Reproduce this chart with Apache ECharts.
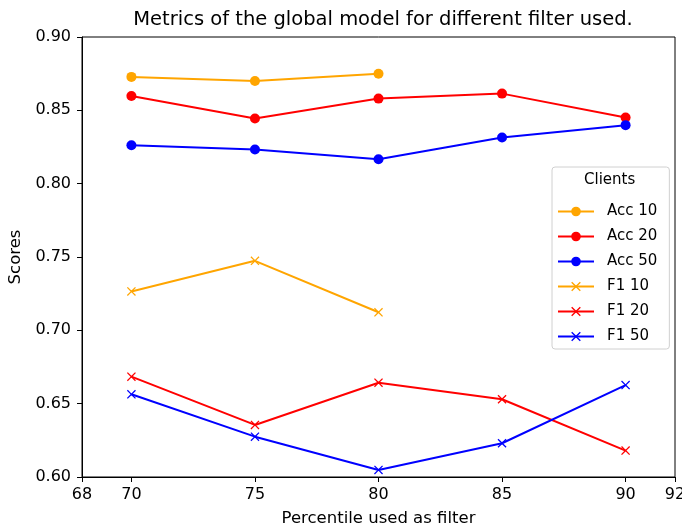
<!DOCTYPE html>
<html>
<head>
<meta charset="utf-8">
<script src="https://cdn.jsdelivr.net/npm/echarts@6/dist/echarts.min.js"></script>
<style>
  html, body { margin: 0; padding: 0; background: #fff; }
  #main { width: 682px; height: 528px; }
</style>
</head>
<body>
<div id="main"></div>
<script>
// percentile used as filter
var percentiles = [70, 75, 80, 85, 90];
var xTicks = [68, 70, 75, 80, 85, 90, 92];

// accuracy scores per number of clients
var acc10 = [0.8728, 0.8700, 0.8750];
var acc20 = [0.8598, 0.8444, 0.8580, 0.8614, 0.8451];
var acc50 = [0.8262, 0.8233, 0.8167, 0.8315, 0.8399];

// F1 scores per number of clients
var f1_10 = [0.7265, 0.7474, 0.7123];
var f1_20 = [0.6684, 0.6355, 0.6643, 0.6530, 0.6180];
var f1_50 = [0.6564, 0.6275, 0.6048, 0.6230, 0.6627];

var seriesNames = ['Acc 10', 'Acc 20', 'Acc 50', 'F1 10', 'F1 20', 'F1 50'];

var font = 'DejaVu Sans';
var crossPath = 'path://M0,1L1,0L5,4L9,0L10,1L6,5L10,9L9,10L5,6L1,10L0,9L4,5Z';

function pairs(vals) {
    return vals.map(function (v, i) { return [percentiles[i], v]; });
}

function makeSeries(name, vals, color, marker) {
    return {
        name: name,
        type: 'line',
        data: pairs(vals),
        symbol: marker === 'o' ? 'circle' : crossPath,
        symbolSize: marker === 'o' ? 10 : 9,
        showAllSymbol: true,
        lineStyle: { color: color, width: 2 },
        itemStyle: { color: color },
        animation: false
    };
}

var myChart = echarts.init(document.getElementById('main'));

var option = {
    animation: false,
    title: {
        text: 'Metrics of the global model for different filter used.',
        left: 378,
        top: 5,
        textAlign: 'center',
        textStyle: { fontFamily: font, fontSize: 19.5, fontWeight: 'normal', color: '#000' }
    },
    grid: {
        left: 82, right: 7, top: 37, bottom: 51,
        outerBoundsMode: 'none',
        show: true, borderColor: '#000', borderWidth: 1
    },
    legend: {
        orient: 'vertical',
        left: 552,
        top: 167,
        padding: [37, 12, 5, 5],
        itemWidth: 36,
        itemHeight: 12,
        itemGap: 10,
        borderColor: '#d0d0d0',
        borderWidth: 1,
        borderRadius: 3,
        backgroundColor: '#fff',
        data: seriesNames,
        textStyle: { fontFamily: font, fontSize: 15, color: '#000', padding: [0, 0, 0, 8] }
    },
    graphic: [{
        type: 'text',
        left: 584,
        top: 173,
        z: 100,
        style: { text: 'Clients', font: '15px "DejaVu Sans"', fill: '#000' }
    }],
    xAxis: {
        type: 'value',
        min: 68,
        max: 92,
        name: 'Percentile used as filter',
        nameLocation: 'middle',
        nameGap: 33,
        nameTextStyle: { fontFamily: font, fontSize: 16.5, color: '#000' },
        axisLine: { lineStyle: { color: '#000' } },
        axisTick: { show: true, inside: false, length: 5, customValues: xTicks, lineStyle: { color: '#000' } },
        axisLabel: { customValues: xTicks, fontFamily: font, fontSize: 16, color: '#000', margin: 10 },
        splitLine: { show: false }
    },
    yAxis: {
        type: 'value',
        min: 0.6,
        max: 0.9,
        interval: 0.05,
        name: 'Scores',
        nameLocation: 'middle',
        nameGap: 58,
        nameTextStyle: { fontFamily: font, fontSize: 16.5, color: '#000' },
        axisLine: { show: true, lineStyle: { color: '#000' } },
        axisTick: { show: true, length: 5, lineStyle: { color: '#000' } },
        axisLabel: {
            fontFamily: font, fontSize: 16, color: '#000', margin: 11,
            formatter: function (v) { return v.toFixed(2); }
        },
        splitLine: { show: false }
    },
    series: [
        makeSeries('Acc 10', acc10, '#ffa500', 'o'),
        makeSeries('Acc 20', acc20, '#ff0000', 'o'),
        makeSeries('Acc 50', acc50, '#0000ff', 'o'),
        makeSeries('F1 10', f1_10, '#ffa500', 'x'),
        makeSeries('F1 20', f1_20, '#ff0000', 'x'),
        makeSeries('F1 50', f1_50, '#0000ff', 'x')
    ]
};

myChart.setOption(option);
</script>
</body>
</html>
